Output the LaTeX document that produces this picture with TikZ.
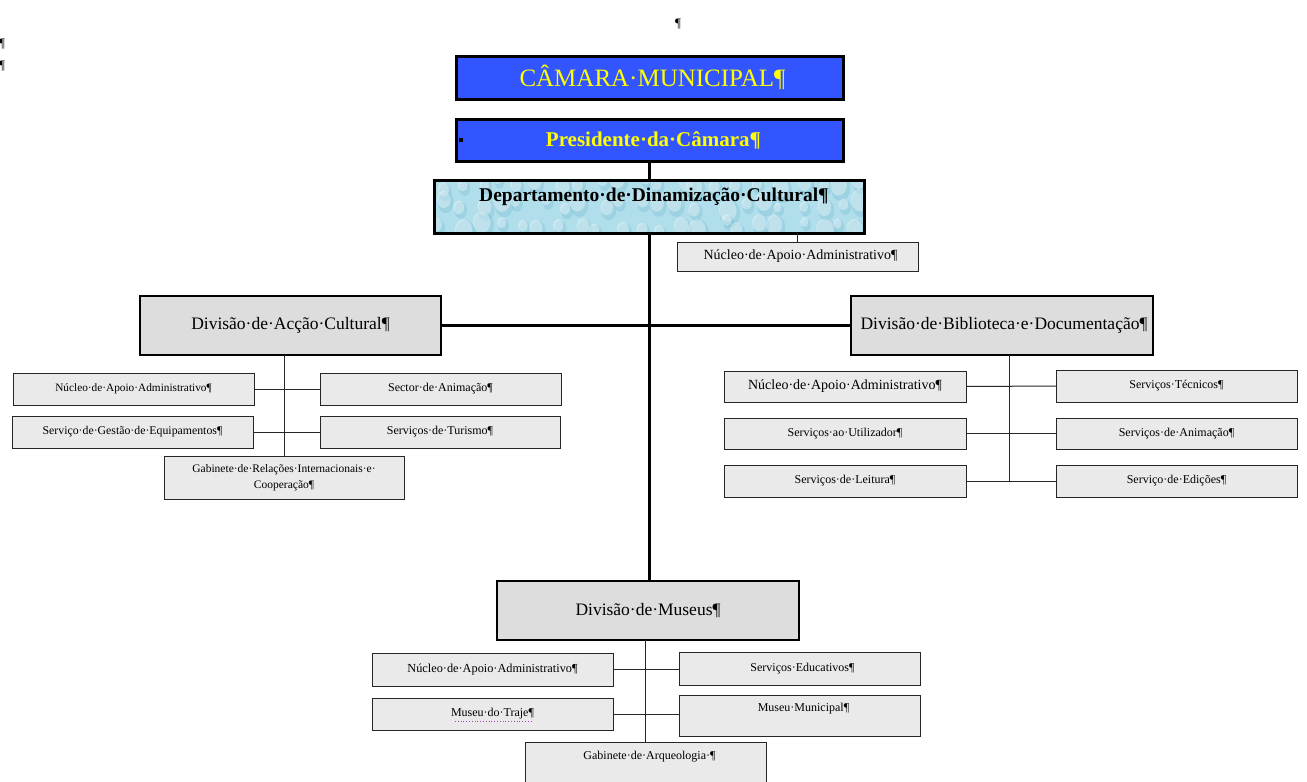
\documentclass[tikz,border=0pt]{standalone}
\usepackage{fontspec}
\setmainfont{Liberation Serif}
\definecolor{cmblue}{RGB}{51,85,255}
\definecolor{cmyellow}{RGB}{255,255,0}
\definecolor{divgray}{RGB}{221,221,221}
\definecolor{subgray}{RGB}{234,234,234}
\definecolor{waterbase}{RGB}{176,222,235}
\definecolor{waterdark}{RGB}{105,180,205}
\definecolor{spellmark}{RGB}{170,60,200}
\begin{document}
\begin{tikzpicture}[x=1pt,y=-1pt,
  every node/.style={inner sep=0pt, outer sep=0pt},
  headbox/.style={draw=black, line width=3pt, fill=cmblue, text=cmyellow},
  deptbox/.style={draw=black, line width=3pt},
  divbox/.style={draw=black, line width=2.6pt, fill=divgray,
    font=\fontsize{17.5}{20}\selectfont},
  subbox/.style={draw=black!85, line width=0.9pt, fill=subgray,
    font=\fontsize{12}{16}\selectfont, align=center},
  wide/.style={minimum width=241, minimum height=32},
  trunk/.style={line width=3pt},
  branch/.style={line width=1pt, draw=black!85},
  pilcrow/.style={font=\fontsize{13}{15}\selectfont}
]
\clip (0,0) rectangle (1307,782);
\fill[white] (0,0) rectangle (1307,782);

% formatting marks of the page
\node[pilcrow] (pmTop) at (678,24) {¶};
\node[pilcrow] (pmLeftA) at (2,44) {¶};
\node[pilcrow] (pmLeftB) at (2,66) {¶};

% council and president
\node[headbox, minimum width=387, minimum height=43,
  font=\fontsize{25}{28}\selectfont] (camara) at (649.5,77.5) {\hspace{6pt}CÂMARA·MUNICIPAL¶};
\node[headbox, minimum width=387, minimum height=42,
  font=\bfseries\fontsize{21}{24}\selectfont] (pres) at (649.5,140) {\hspace{8pt}Presidente·da·Câmara¶};
\fill[black] (459,138) rectangle (463,142);

% department box with a soft water-drop texture, drops spread on a jittered grid
\fill[waterbase] (434,180) rectangle (864,233);
\begin{scope}
  \clip (434,180) rectangle (864,233);
  \pgfmathsetseed{11}
  \foreach \col in {0,...,21} {
    \foreach \row in {0,...,2} {
      \pgfmathsetmacro{\xx}{434+20*\col+14*rnd}
      \pgfmathsetmacro{\yy}{178+21*\row+12*rnd}
      \pgfmathsetmacro{\rr}{6+8*rnd}
      \fill[waterdark, opacity=0.28] (\xx+2,\yy+3) ellipse ({0.75*\rr} and {\rr});
      \fill[white, opacity=0.35] (\xx,\yy) ellipse ({0.65*\rr} and {0.8*\rr});
    }
  }
\end{scope}
\node[deptbox, minimum width=430, minimum height=53] (dept) at (649,206.5) {};
\node[anchor=north, font=\bfseries\fontsize{19.5}{22}\selectfont] (deptLabel)
  at ([xshift=5pt,yshift=-8pt]dept.north) {Departamento·de·Dinamização·Cultural¶};
\node[subbox, minimum width=241, minimum height=29, font=\fontsize{14}{16}\selectfont]
  (deptNuc) at (797.5,256.5) {\hspace{6pt}Núcleo·de·Apoio·Administrativo¶};

% divisions
\node[divbox, minimum width=301, minimum height=59] (divAC) at (290.5,325.5) {Divisão·de·Acção·Cultural¶};
\node[divbox, minimum width=302, minimum height=59] (divBD) at (1002,325.5) {\hspace{4pt}Divisão·de·Biblioteca·e·Documentação¶};
\node[divbox, minimum width=302, minimum height=59] (divM) at (648,610.5) {Divisão·de·Museus¶};

% Divisão de Acção Cultural units
\node[subbox, wide, font=\fontsize{11.3}{14}\selectfont] (acNuc) at (133.5,389) {Núcleo·de·Apoio·Administrativo¶};
\node[subbox, wide] (acSec) at (440.5,389) {Sector·de·Animação¶};
\node[subbox, wide, font=\fontsize{11.8}{14}\selectfont] (acGest) at (132.5,432) {Serviço·de·Gestão·de·Equipamentos¶};
\node[subbox, wide, minimum width=240] (acTur) at (440,432) {Serviços·de·Turismo¶};
\node[subbox, minimum width=240, minimum height=43, font=\fontsize{11.5}{16}\selectfont]
  (acGab) at (284,477.5) {Gabinete·de·Relações·Internacionais·e·\\Cooperação¶};

% Divisão de Biblioteca e Documentação units
\node[subbox, wide, minimum width=242, minimum height=31, font=\fontsize{14}{16}\selectfont] (bdNuc) at (845,386.5) {Núcleo·de·Apoio·Administrativo¶};
\node[subbox, wide, minimum width=242, minimum height=31] (bdUtil) at (845,433.5) {Serviços·ao·Utilizador¶};
\node[subbox, wide, minimum width=242, minimum height=32] (bdLeit) at (845,481) {Serviços·de·Leitura¶};
\node[subbox, wide] (bdTec) at (1176.5,386) {Serviços·Técnicos¶};
\node[subbox, wide, minimum height=31] (bdAnim) at (1176.5,433.5) {Serviços·de·Animação¶};
\node[subbox, wide] (bdEdic) at (1176.5,481) {Serviço·de·Edições¶};

% Divisão de Museus units
\node[subbox, wide, minimum height=33, font=\fontsize{12.3}{14}\selectfont] (mNuc) at (492.5,669.5) {Núcleo·de·Apoio·Administrativo¶};
\node[subbox, wide, minimum height=33] (mEdu) at (799.5,668.5) {\hspace{6pt}Serviços·Educativos¶};
\node[subbox, wide] (mTraje) at (492.5,714) {Museu·do·Traje¶};
\node[subbox, wide, minimum height=41] (mMun) at (799.5,715.5) {};
\node[anchor=north, font=\fontsize{12}{14}\selectfont] (mMunLabel)
  at ([xshift=4pt,yshift=-8pt]mMun.north) {Museu·Municipal¶};
\node[subbox, wide, minimum height=70] (mGab) at (645.5,777) {};
\node[anchor=north, font=\fontsize{12}{14}\selectfont] (mGabLabel)
  at ([xshift=4pt,yshift=-9pt]mGab.north) {Gabinete·de·Arqueologia·¶};
\draw[spellmark, dotted, line width=0.8pt] (455,721.5) -- (533,721.5);

% main hierarchy
\draw[trunk] (pres.south) -- (pres.south |- dept.north);
\draw[trunk] (dept.south -| pres.south) -- (divM.north -| pres.south);
\draw[trunk] (divAC.east) -- (divBD.west);
\draw[branch] (deptNuc.north) -- (deptNuc.north |- dept.south);

% Acção Cultural branches
\draw[branch] (divAC.south -| acGab.north) -- (acGab.north);
\draw[branch] (acNuc.east) -- (acSec.west);
\draw[branch] (acGest.east) -- (acTur.west);

% Biblioteca e Documentação branches
\coordinate (bdSpine) at (1009,0);
\draw[branch] (divBD.south -| bdSpine) -- (bdLeit.east -| bdSpine);
\draw[branch] (bdNuc.east) -- (bdTec.west);
\draw[branch] (bdUtil.east) -- (bdAnim.west);
\draw[branch] (bdLeit.east) -- (bdEdic.west);

% Museus branches
\draw[branch] (divM.south -| mGab.north) -- (mGab.north);
\draw[branch] (mNuc.east) -- (mNuc.east -| mEdu.west);
\draw[branch] (mTraje.east) -- (mTraje.east -| mMun.west);
\end{tikzpicture}
\end{document}
